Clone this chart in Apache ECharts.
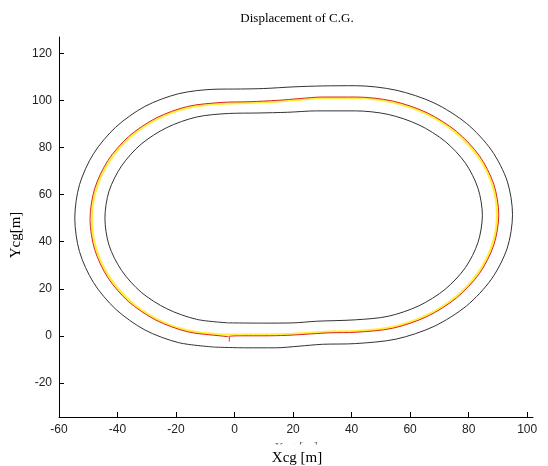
<!DOCTYPE html>
<html><head><meta charset="utf-8">
<script src="https://cdn.jsdelivr.net/npm/echarts@6/dist/echarts.min.js"></script>
<style>html,body{margin:0;padding:0;background:#fff}#c{width:548px;height:466px}</style>
</head><body><div id="c"></div>
<script>
var xTicks = [-60, -40, -20, 0, 20, 40, 60, 80, 100];
var yTicks = [-20, 0, 20, 40, 60, 80, 100, 120];

// outer track boundary (closed)
var outerX = [-6.7, 4, 14, 22, 30, 41.3, 55.2, 68.15, 79.3, 87.8, 93.2, 95.0, 93.2, 87.8, 79.3, 68.15, 55.2, 41.3, 30, 20, 10, 2, -6.7, -19.1, -30.65, -40.6, -48.2, -53.0, -54.6, -53.0, -48.2, -40.6, -30.65, -19.1, -6.7];
var outerY = [-4.8, -5.1, -5.1, -4.4, -3.6, -3.3, -1.4, 4.0, 12.75, 24.1, 37.3, 51.5, 65.7, 78.9, 90.25, 99.0, 104.4, 106.3, 106.2, 105.8, 105.1, 104.9, 104.8, 102.9, 97.5, 88.7, 77.4, 64.2, 50.0, 35.8, 22.6, 11.3, 2.5, -2.9, -4.8];

// inner track boundary (closed)
var innerX = [-2, 10, 20, 28, 41.3, 52.5, 63.0, 72.0, 78.9, 83.2, 84.7, 83.2, 78.9, 72.0, 63.0, 52.5, 41.3, 28, 18, 8, -2, -12.95, -23.15, -31.9, -38.6, -42.9, -44.3, -42.9, -38.6, -31.9, -23.15, -12.95, -2];
var innerY = [5.5, 5.4, 5.5, 6.2, 6.8, 8.3, 12.75, 19.8, 29.0, 39.7, 51.2, 62.7, 73.4, 82.6, 89.65, 94.1, 95.6, 95.6, 95.0, 94.7, 94.5, 93.0, 88.5, 81.5, 72.25, 61.5, 50.0, 38.5, 27.75, 18.5, 11.5, 7.0, 5.5];

// reference path (yellow)
var refX = [-4.3, 3, 10, 18, 26, 33, 41.3, 53.8, 65.5, 75.5, 83.2, 88.05, 89.7, 88.05, 83.2, 75.5, 65.5, 53.8, 41.3, 30, 22, 15, 5, -4.3, -15.8, -26.55, -35.8, -42.8, -47.3, -48.8, -47.3, -42.8, -35.8, -26.55, -15.8, -4.3];
var refY = [0.5, 0.5, 0.5, 0.7, 1.3, 1.8, 2.0, 3.7, 8.6, 16.5, 26.75, 38.7, 51.5, 64.3, 76.25, 86.5, 94.4, 99.3, 101.0, 101.0, 100.3, 99.6, 99.0, 98.7, 97.0, 92.1, 84.3, 74.15, 62.3, 49.6, 36.9, 25.05, 14.9, 7.1, 2.2, 0.5];

// C.G. trajectory (red)
var cgX = [-1.8, -1.7, 3, 10, 18, 26, 33, 41.3, 54.0, 65.8, 75.9, 83.7, 88.6, 90.3, 88.6, 83.7, 75.9, 65.8, 54.0, 41.3, 30, 22, 15, 5, -4.3, -16.0, -26.85, -36.2, -43.35, -47.85, -49.4, -47.85, -43.35, -36.2, -26.85, -16.0, -4.3, -2.0];
var cgY = [-2.4, -0.3, 0.0, 0.0, 0.2, 0.8, 1.3, 1.5, 3.2, 8.2, 16.15, 26.5, 38.55, 51.5, 64.45, 76.5, 86.85, 94.8, 99.8, 101.5, 101.5, 100.8, 100.1, 99.5, 99.2, 97.5, 92.55, 84.7, 74.4, 62.4, 49.6, 36.8, 24.8, 14.5, 6.65, 1.7, -0.1, -0.4];

function pairs(xs, ys) { return xs.map(function (x, i) { return [x, ys[i]]; }); }

var chart = echarts.init(document.getElementById('c'), null, {renderer: 'canvas'});
var tickFont = {fontFamily: 'Liberation Sans, Arial, sans-serif', fontSize: 12, color: '#222'};
var serif = '"Liberation Serif", "Times New Roman", serif';
chart.setOption({
  animation: false,
  backgroundColor: '#fff',
  grid: {left: 59, right: 15, top: 37, bottom: 49, containLabel: false},
  xAxis: {
    type: 'value', min: -60, max: 102,
    axisLine: {show: true, onZero: false, lineStyle: {color: '#000', width: 1}},
    axisTick: {show: true, inside: true, length: 5, customValues: xTicks, lineStyle: {color: '#000'}},
    axisLabel: Object.assign({customValues: xTicks, margin: 7}, tickFont),
    splitLine: {show: false}
  },
  yAxis: {
    type: 'value', min: -34.5, max: 127,
    axisLine: {show: true, onZero: false, lineStyle: {color: '#000', width: 1}},
    axisTick: {show: true, inside: true, length: 5, customValues: yTicks, lineStyle: {color: '#000'}},
    axisLabel: Object.assign({customValues: yTicks, margin: 7}, tickFont),
    splitLine: {show: false}
  },
  graphic: [
    {type: 'text', x: 297, y: 19, style: {text: 'Displacement of C.G.', font: '13px ' + serif, fill: '#000', textAlign: 'center', textVerticalAlign: 'middle'}},
    {type: 'text', x: 296, y: 448, style: {text: 'Xcg [m]', font: '13px ' + serif, fill: '#666', textAlign: 'center', textVerticalAlign: 'middle'}},
    {type: 'rect', shape: {x: 255, y: 444.5, width: 85, height: 10}, style: {fill: '#fff'}},
    {type: 'text', x: 297, y: 458, style: {text: 'Xcg [m]', font: '15px ' + serif, fill: '#000', textAlign: 'center', textVerticalAlign: 'middle'}},
    {type: 'text', x: 16, y: 235, rotation: Math.PI / 2, style: {text: 'Ycg[m]', font: '15px ' + serif, fill: '#000', textAlign: 'center', textVerticalAlign: 'middle'}}
  ],
  series: [
    {type: 'line', data: pairs(outerX, outerY), showSymbol: false, smooth: 0.3, lineStyle: {color: '#333', width: 1}},
    {type: 'line', data: pairs(innerX, innerY), showSymbol: false, smooth: 0.3, lineStyle: {color: '#333', width: 1}},
    {type: 'line', data: pairs(refX, refY), showSymbol: false, smooth: 0.3, lineStyle: {color: '#ffee3a', width: 2.2}},
    {type: 'line', data: pairs(cgX, cgY), showSymbol: false, smooth: 0.3, lineStyle: {color: '#d8261c', width: 1}}
  ]
});
</script>
</body></html>
